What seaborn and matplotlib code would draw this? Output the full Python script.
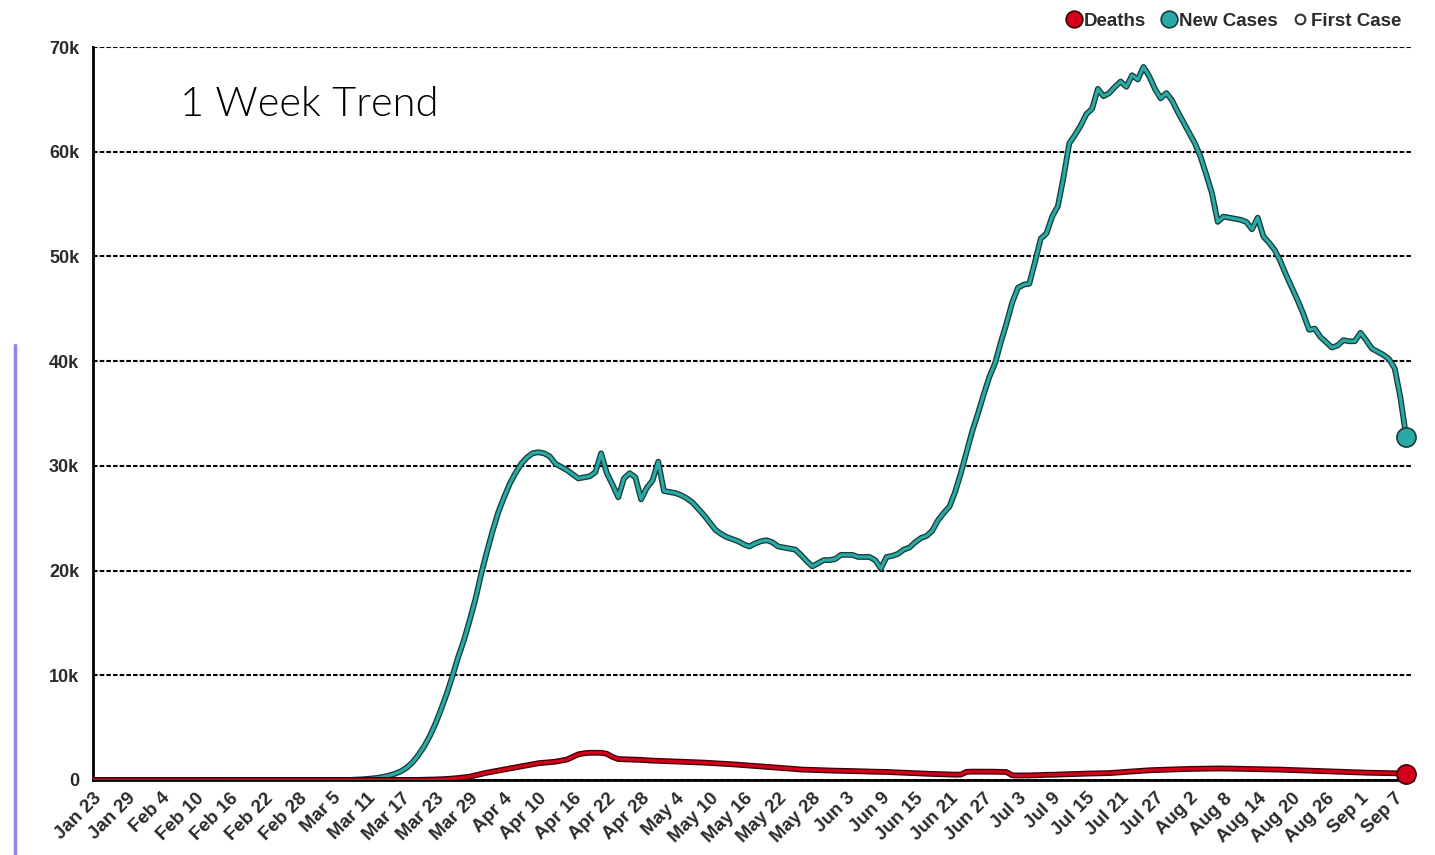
import numpy as np
import pandas as pd
import matplotlib
matplotlib.use("Agg")
import matplotlib.pyplot as plt
import matplotlib.patheffects as pe
from matplotlib.lines import Line2D
import seaborn as sns

# 7-day average new cases, in thousands, one row per week starting Jan 23 2020
new_cases_k = [
    0, 0, 0, 0, 0, 0, 0,
    0, 0, 0, 0, 0, 0, 0,
    0, 0, 0, 0, 0, 0, 0,
    0, 0, 0, 0, 0, 0, 0,
    0, 0, 0, 0, 0, 0, 0,
    0, 0, 0, 0, 0, 0, 0,
    0, 0, 0, 0.01, 0.03, 0.06, 0.1,
    0.15, 0.22, 0.32, 0.45, 0.62, 0.85, 1.2,
    1.7, 2.4, 3.2, 4.2, 5.4, 6.8, 8.3,
    10.0, 11.8, 13.4, 15.3, 17.3, 19.7, 21.8,
    23.8, 25.6, 27.0, 28.3, 29.3, 30.2, 30.8,
    31.2, 31.3, 31.2, 30.9, 30.2, 29.9, 29.6,
    29.2, 28.8, 28.9, 29.0, 29.4, 31.2, 29.3,
    28.2, 27.0, 28.8, 29.3, 28.9, 26.8, 27.9,
    28.6, 30.4, 27.6, 27.5, 27.4, 27.2, 26.9,
    26.5, 25.9, 25.3, 24.6, 23.9, 23.5, 23.2,
    23.0, 22.8, 22.5, 22.3, 22.6, 22.8, 22.9,
    22.7, 22.3, 22.2, 22.1, 22.0, 21.5, 20.9,
    20.4, 20.7, 21.0, 21.0, 21.1, 21.5, 21.5,
    21.5, 21.3, 21.3, 21.3, 21.0, 20.2, 21.3,
    21.4, 21.6, 22.0, 22.2, 22.7, 23.1, 23.3,
    23.8, 24.8, 25.5, 26.1, 27.5, 29.3, 31.3,
    33.3, 35.0, 36.8, 38.5, 39.8, 41.8, 43.6,
    45.6, 47.0, 47.3, 47.4, 49.5, 51.7, 52.2,
    53.8, 54.8, 57.6, 60.8, 61.6, 62.5, 63.6,
    64.1, 66.0, 65.3, 65.6, 66.2, 66.7, 66.2,
    67.3, 66.9, 68.1, 67.2, 66.0, 65.1, 65.6,
    64.9, 63.8, 62.8, 61.8, 60.8, 59.5, 57.8,
    56.0, 53.3, 53.8, 53.7, 53.6, 53.5, 53.3,
    52.6, 53.7, 51.9, 51.3, 50.6, 49.5, 48.2,
    47.0, 45.8, 44.5, 43.0, 43.1, 42.3, 41.8,
    41.3, 41.5, 42.0, 41.9, 41.9, 42.7, 42.0,
    41.2, 40.9, 40.6, 40.2, 39.3, 36.5, 32.8,
]

# 7-day average deaths, in thousands
deaths_k = [
    0, 0, 0, 0, 0, 0, 0,
    0, 0, 0, 0, 0, 0, 0,
    0, 0, 0, 0, 0, 0, 0,
    0, 0, 0, 0, 0, 0, 0,
    0, 0, 0, 0, 0, 0, 0,
    0, 0, 0, 0, 0, 0, 0,
    0, 0, 0, 0, 0, 0, 0,
    0, 0, 0, 0, 0, 0, 0,
    0.0, 0.01, 0.02, 0.03, 0.05, 0.07, 0.1,
    0.14, 0.19, 0.25, 0.32, 0.45, 0.58, 0.7,
    0.8, 0.9, 1.0, 1.1, 1.2, 1.3, 1.4,
    1.5, 1.6, 1.65, 1.7, 1.75, 1.85, 1.95,
    2.2, 2.45, 2.55, 2.6, 2.6, 2.6, 2.5,
    2.2, 2.0, 1.98, 1.96, 1.94, 1.92, 1.88,
    1.85, 1.83, 1.81, 1.79, 1.77, 1.75, 1.73,
    1.71, 1.69, 1.66, 1.63, 1.6, 1.57, 1.54,
    1.5, 1.46, 1.42, 1.38, 1.34, 1.3, 1.26,
    1.22, 1.18, 1.14, 1.1, 1.05, 1.0, 0.98,
    0.96, 0.94, 0.92, 0.9, 0.89, 0.88, 0.87,
    0.86, 0.84, 0.82, 0.8, 0.79, 0.78, 0.77,
    0.74, 0.72, 0.7, 0.68, 0.65, 0.62, 0.6,
    0.58, 0.56, 0.54, 0.52, 0.51, 0.52, 0.78,
    0.8, 0.8, 0.8, 0.79, 0.79, 0.78, 0.76,
    0.45, 0.43, 0.43, 0.44, 0.45, 0.47, 0.5,
    0.5, 0.52, 0.54, 0.56, 0.58, 0.6, 0.61,
    0.62, 0.63, 0.64, 0.66, 0.7, 0.74, 0.78,
    0.82, 0.86, 0.9, 0.93, 0.95, 0.98, 1.0,
    1.02, 1.04, 1.05, 1.06, 1.07, 1.08, 1.09,
    1.1, 1.1, 1.1, 1.09, 1.08, 1.07, 1.06,
    1.05, 1.04, 1.03, 1.02, 1.0, 0.99, 0.97,
    0.95, 0.93, 0.91, 0.89, 0.87, 0.85, 0.83,
    0.81, 0.79, 0.77, 0.75, 0.73, 0.71, 0.7,
    0.69, 0.68, 0.67, 0.66, 0.65, 0.64, 0.62,
]

start_date = "2020-01-23"
y_ticks = [0, 10, 20, 30, 40, 50, 60, 70]
y_labels = ["0", "10k", "20k", "30k", "40k", "50k", "60k", "70k"]
legend_labels = ["Deaths", "New Cases", "First Case"]
title_text = "1 Week Trend"

TEAL = "#2aaaa4"
TEAL_EDGE = "#173c3c"
RED = "#d4001a"
RED_EDGE = "#3d0008"
LABEL_FONT = ["Liberation Sans", "DejaVu Sans"]

dates = pd.date_range(start_date, periods=len(new_cases_k), freq="D")
df = pd.DataFrame({"date": dates, "New Cases": new_cases_k, "Deaths": deaths_k})

sns.set_style("white")
fig = plt.figure(figsize=(14.35, 8.55), dpi=100)
ax = fig.add_axes([93 / 1435, 1 - 780 / 855, (1413 - 93) / 1435, (780 - 47) / 855])

# lines with a dark outline
sns.lineplot(data=df, x="date", y="New Cases", ax=ax, color=TEAL, linewidth=2.3,
             path_effects=[pe.Stroke(linewidth=4.2, foreground=TEAL_EDGE), pe.Normal()],
             zorder=4)
sns.lineplot(data=df, x="date", y="Deaths", ax=ax, color=RED, linewidth=2.3,
             path_effects=[pe.Stroke(linewidth=4.2, foreground=RED_EDGE), pe.Normal()],
             zorder=5)

# end-point markers
last = df.iloc[[-1]]
ax.scatter(last["date"], last["New Cases"], s=190, color=TEAL, edgecolor=TEAL_EDGE,
           linewidth=1.2, zorder=6, clip_on=False)
ax.scatter(last["date"], last["Deaths"], s=190, color=RED, edgecolor=RED_EDGE,
           linewidth=1.2, zorder=6, clip_on=False)

# axes limits and ticks
ax.set_xlim(dates[0], dates[0] + pd.Timedelta(days=231.2))
ax.set_ylim(0, 70)
ax.set_yticks(y_ticks)
ax.set_yticklabels(y_labels)
ax.set_xticks(dates[::6])
ax.set_xticklabels([d.strftime("%b %-d") for d in dates[::6]])
ax.set_xlabel("")
ax.set_ylabel("")

ax.yaxis.grid(True, color="black", linestyle=(0, (2.2, 1.0)), linewidth=1.5)
ax.xaxis.grid(False)
ax.set_axisbelow(True)

for side in ["top", "right"]:
    ax.spines[side].set_visible(False)
ax.spines["left"].set_color("black")
ax.spines["left"].set_linewidth(2)
ax.spines["bottom"].set_color("black")
ax.spines["bottom"].set_linewidth(2)

ax.tick_params(axis="y", length=10, width=1.4, color="black", pad=0,
               labelsize=13, labelcolor="#2b2b2b")
ax.tick_params(axis="x", length=0, pad=7, labelsize=13.5, labelcolor="#2b2b2b")
for lab in ax.get_yticklabels():
    lab.set_fontweight("bold")
    lab.set_family(LABEL_FONT)
for lab in ax.get_xticklabels():
    lab.set_fontweight("bold")
    lab.set_family(LABEL_FONT)
    lab.set_rotation(45)
    lab.set_ha("right")
    lab.set_rotation_mode("anchor")

# title text inside the plot
fig.text(180 / 1435, 1 - 104 / 855, title_text, fontsize=30, fontweight=300,
         family=["Lato", "DejaVu Sans"], color="black", va="center", ha="left")

# legend
handles = [
    Line2D([], [], linestyle="", marker="o", markersize=12, markerfacecolor=RED,
           markeredgecolor=RED_EDGE, markeredgewidth=1.2),
    Line2D([], [], linestyle="", marker="o", markersize=12, markerfacecolor=TEAL,
           markeredgecolor=TEAL_EDGE, markeredgewidth=1.2),
    Line2D([], [], linestyle="", marker="o", markersize=7, markerfacecolor="white",
           markeredgecolor="#333333", markeredgewidth=1.5),
]
leg = fig.legend(handles, legend_labels, loc="upper right",
                 bbox_to_anchor=(1418 / 1435, 1 + 4 / 855), ncol=3, frameon=False,
                 handletextpad=0.05, columnspacing=0.7, handlelength=1.0,
                 prop={"family": LABEL_FONT, "weight": "bold", "size": 13.5})
for t in leg.get_texts():
    t.set_color("#2b2b2b")

# purple bar on the left edge
fig.add_artist(Line2D([15 / 1435, 15 / 1435], [0, 1 - 345 / 855], color="#9b7cf4",
                      linewidth=2.5, transform=fig.transFigure))

fig.savefig("out.png", dpi=100)
